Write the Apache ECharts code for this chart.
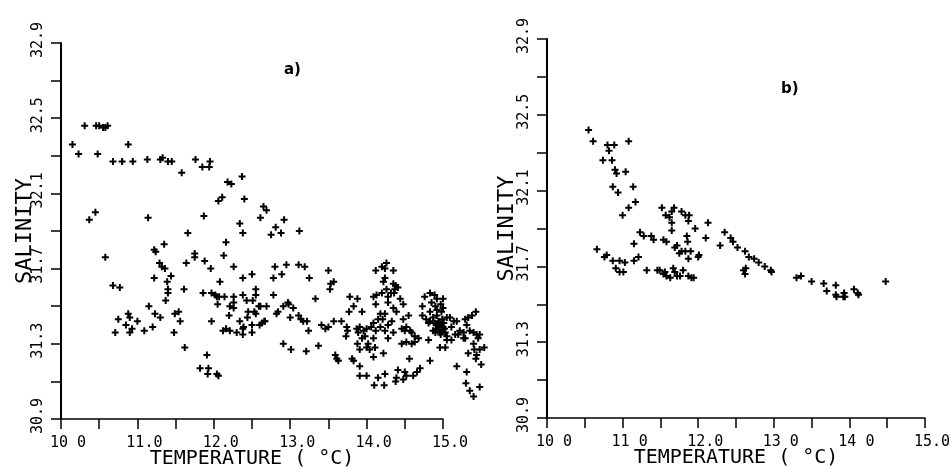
<!DOCTYPE html>
<html>
<head>
<meta charset="utf-8">
<script src="https://cdn.jsdelivr.net/npm/echarts@6/dist/echarts.min.js"></script>
<style>
  html, body { margin: 0; padding: 0; background: #fff; }
  #chart { width: 951px; height: 469px; }
</style>
</head>
<body>
<div id="chart"></div>
<script>
// ---- Data: [temperature (°C), salinity] ----
const panelA = [
  [10.15,32.36],[10.23,32.31],[10.31,32.46],[10.46,32.46],[10.50,32.46],[10.55,32.45],[10.58,32.45],[10.61,32.46],[10.48,32.31],[10.88,32.36],
  [10.68,32.27],[10.80,32.27],[10.94,32.27],[11.13,32.28],[11.30,32.28],[11.33,32.29],[11.40,32.27],[11.45,32.27],[11.58,32.21],[11.76,32.28],
  [11.85,32.24],[11.94,32.24],[11.95,32.27],[12.18,32.16],[12.23,32.15],[12.37,32.19],[12.06,32.06],[12.11,32.08],[12.40,32.07],[10.37,31.96],
  [10.45,32.00],[11.14,31.97],[11.87,31.98],[12.34,31.94],[12.38,31.89],[11.66,31.89],[12.61,31.97],[12.65,32.03],[12.69,32.01],[12.16,31.84],
  [11.22,31.80],[11.24,31.79],[11.35,31.83],[10.58,31.76],[11.75,31.78],[11.75,31.76],[12.13,31.77],[12.92,31.96],[12.81,31.92],[12.75,31.88],
  [12.88,31.89],[13.12,31.90],[11.29,31.73],[11.32,31.71],[11.36,31.70],[11.44,31.66],[11.22,31.65],[11.39,31.63],[11.40,31.59],[11.40,31.57],
  [11.37,31.53],[11.61,31.59],[11.64,31.73],[11.88,31.74],[11.96,31.70],[12.26,31.71],[12.38,31.65],[12.50,31.67],[12.08,31.63],[11.86,31.57],
  [11.97,31.57],[12.02,31.56],[12.04,31.55],[12.07,31.55],[12.05,31.51],[12.14,31.55],[12.26,31.55],[12.26,31.52],[12.38,31.56],[12.43,31.53],
  [12.51,31.53],[12.55,31.59],[12.55,31.56],[12.59,31.50],[12.69,31.50],[12.21,31.50],[12.26,31.49],[12.20,31.45],[12.45,31.47],[12.53,31.47],
  [12.44,31.44],[12.55,31.46],[12.34,31.42],[12.66,31.42],[12.60,31.40],[12.50,31.40],[12.39,31.39],[12.38,31.38],[12.38,31.35],[12.50,31.36],
  [12.30,31.36],[12.21,31.37],[12.12,31.37],[12.16,31.38],[11.97,31.42],[10.68,31.61],[10.77,31.60],[11.15,31.50],[11.23,31.46],[11.30,31.44],
  [11.49,31.46],[11.54,31.47],[11.56,31.42],[10.88,31.46],[10.90,31.44],[10.75,31.43],[10.85,31.40],[11.00,31.42],[10.93,31.38],[10.90,31.36],
  [10.71,31.36],[11.09,31.37],[11.20,31.39],[11.48,31.36],[11.62,31.28],[11.91,31.24],[11.82,31.17],[11.93,31.17],[11.92,31.14],[12.04,31.14],
  [12.06,31.13],[12.80,31.71],[12.95,31.72],[13.11,31.72],[13.19,31.71],[12.78,31.65],[12.89,31.67],[13.25,31.65],[13.50,31.69],[13.57,31.63],
  [13.53,31.62],[13.52,31.59],[12.78,31.56],[13.33,31.54],[12.61,31.50],[12.84,31.47],[12.82,31.46],[12.91,31.50],[12.97,31.52],[12.98,31.51],
  [13.04,31.49],[13.00,31.44],[13.11,31.45],[13.14,31.43],[13.17,31.42],[13.22,31.42],[13.24,31.37],[12.67,31.42],[12.63,31.41],[13.41,31.40],
  [13.46,31.38],[13.50,31.39],[13.57,31.42],[13.67,31.42],[12.91,31.30],[13.01,31.27],[13.21,31.26],[13.37,31.29],[13.59,31.24],[13.61,31.22],
  [13.63,31.21],[13.81,31.22],[13.83,31.21],[13.91,31.18],[13.91,31.13],[14.00,31.13],[14.10,31.08],[14.23,31.08],[14.15,31.12],[14.24,31.14],
  [14.38,31.10],[14.48,31.11],[14.39,31.12],[14.41,31.16],[14.50,31.15],[14.52,31.13],[14.61,31.13],[14.66,31.15],[14.70,31.17],[14.56,31.22],
  [14.83,31.21],[15.18,31.18],[15.31,31.15],[15.30,31.09],[15.48,31.07],[15.35,31.05],[15.40,31.02],[15.50,31.19],[15.43,31.22],[15.44,31.24],
  [15.33,31.25],[15.41,31.27],[15.48,31.27],[15.54,31.28],[15.40,31.30],[15.46,31.33],[15.48,31.35],[14.26,31.73],[14.12,31.69],[14.20,31.71],
  [14.24,31.70],[14.35,31.69],[14.24,31.65],[14.22,31.63],[14.38,31.61],[14.37,31.59],[14.41,31.60],[14.26,31.59],[14.20,31.57],[14.32,31.57],
  [14.36,31.57],[14.13,31.56],[14.09,31.55],[14.28,31.55],[14.44,31.54],[14.48,31.51],[14.28,31.52],[14.35,31.49],[14.39,31.47],[14.24,31.46],
  [14.18,31.46],[14.12,31.51],[13.78,31.55],[13.88,31.54],[13.77,31.47],[13.83,31.50],[13.94,31.47],[14.15,31.43],[14.21,31.43],[14.33,31.42],
  [14.28,31.40],[14.24,31.37],[14.18,31.39],[14.09,31.41],[14.06,31.39],[14.12,31.37],[14.35,31.36],[14.28,31.33],[14.48,31.43],[14.55,31.45],
  [14.52,31.39],[14.50,31.37],[14.57,31.37],[14.59,31.36],[14.63,31.34],[14.68,31.33],[14.63,31.31],[14.52,31.31],[14.46,31.30],[14.59,31.30],
  [13.74,31.39],[13.75,31.37],[13.73,31.34],[13.87,31.38],[13.89,31.36],[13.91,31.39],[13.96,31.37],[14.00,31.38],[13.94,31.33],[13.98,31.34],
  [14.09,31.33],[14.02,31.30],[13.88,31.30],[14.00,31.28],[13.91,31.27],[14.04,31.27],[14.11,31.28],[14.09,31.23],[14.22,31.25],[14.46,31.38],
  [14.81,31.32],[14.76,31.55],[14.83,31.57],[14.89,31.56],[14.92,31.54],[15.00,31.54],[14.73,31.50],[14.83,31.47],[14.90,31.50],[14.97,31.51],
  [14.73,31.45],[14.78,31.43],[14.83,31.42],[14.87,31.44],[14.92,31.45],[14.98,31.47],[15.00,31.49],[15.05,31.44],[15.09,31.44],[15.14,31.42],
  [14.94,31.42],[14.96,31.40],[15.00,31.39],[14.92,31.38],[14.87,31.37],[14.98,31.37],[15.03,31.36],[14.96,31.36],[15.05,31.34],[15.11,31.39],
  [15.18,31.42],[15.22,31.37],[15.20,31.35],[15.27,31.36],[15.27,31.33],[15.11,31.32],[15.16,31.35],[15.05,31.32],[14.96,31.28],[15.03,31.28],
  [15.29,31.43],[15.33,31.44],[15.38,31.45],[15.43,31.47],[15.31,31.40],[15.35,31.37],[15.40,31.36],[15.44,31.35],[15.29,31.33],[14.92,31.48],
  [14.85,31.52],[14.81,31.41],[14.90,31.36],[14.95,31.41],[14.99,31.43],[14.94,31.39],[14.97,31.35],[15.01,31.41],[14.91,31.40],[14.89,31.41],
  [15.02,31.38],[14.35,31.62]
];

const panelB = [
  [10.55,32.42],[10.61,32.36],[10.80,32.34],[10.89,32.34],[10.82,32.31],[11.08,32.36],[10.74,32.26],[10.86,32.26],[10.90,32.21],[10.92,32.19],
  [11.04,32.20],[10.87,32.12],[10.94,32.09],[11.14,32.12],[11.17,32.04],[11.08,32.01],[11.00,31.97],[11.52,32.01],[11.57,31.97],[11.62,31.96],
  [11.68,32.01],[11.65,31.99],[11.78,31.99],[11.83,31.97],[11.88,31.97],[11.87,31.94],[11.65,31.93],[11.65,31.89],[11.96,31.90],[12.13,31.93],
  [12.10,31.85],[11.85,31.86],[11.86,31.83],[11.23,31.88],[11.28,31.86],[11.38,31.86],[11.41,31.84],[11.54,31.84],[11.58,31.83],[11.15,31.82],
  [11.69,31.80],[11.72,31.81],[11.78,31.78],[11.83,31.78],[11.90,31.78],[11.75,31.77],[11.87,31.74],[12.01,31.76],[12.00,31.75],[12.29,31.81],
  [12.35,31.88],[12.43,31.85],[12.46,31.83],[12.52,31.80],[12.62,31.78],[12.67,31.75],[12.74,31.74],[12.80,31.72],[12.88,31.70],[12.96,31.68],
  [12.97,31.67],[12.60,31.68],[12.62,31.66],[12.63,31.69],[10.66,31.79],[10.76,31.75],[10.79,31.76],[10.87,31.73],[10.96,31.73],[11.03,31.72],
  [10.91,31.69],[10.96,31.67],[11.01,31.67],[11.15,31.73],[11.21,31.75],[11.32,31.68],[11.46,31.68],[11.49,31.68],[11.54,31.66],[11.58,31.65],
  [11.63,31.64],[11.69,31.67],[11.72,31.65],[11.76,31.65],[11.80,31.68],[11.87,31.65],[11.91,31.64],[11.94,31.64],[11.67,31.69],[11.56,31.67],
  [13.30,31.64],[13.36,31.65],[13.50,31.62],[13.66,31.61],[13.82,31.60],[13.70,31.57],[13.82,31.55],[13.83,31.54],[13.93,31.56],[13.94,31.54],
  [13.92,31.54],[14.06,31.58],[14.11,31.56],[14.12,31.55],[14.48,31.62]
];

// ---- Axis text ----
const xTickLabelsA = ['10 0', '11.0', '12.0', '13.0', '14.0', '15.0'];
const xTickLabelsB = ['10 0', '11 0', '12.0', '13 0', '14 0', '15.0'];
const yTickLabels = ['30.9', '31.3', '31.7', '32.1', '32.5', '32.9'];
const panelLabels = ['a)', 'b)'];
const xTitle = 'TEMPERATURE ( \u00B0C)';
const yTitle = 'SALINITY';

const yBase = 30.9;   // salinity axis runs 30.9 .. 32.9, ticks every 0.2
const MONO = '"DejaVu Sans Mono", "Liberation Mono", monospace';
const plusPath = 'path://M2.5,0H4.5V2.5H7V4.5H4.5V7H2.5V4.5H0V2.5H2.5Z';

function xAxisFor(idx, labels) {
  return {
    type: 'value', gridIndex: idx, min: 10, max: 15, interval: 0.5,
    name: xTitle, nameLocation: 'middle', nameGap: 30, nameMoveOverlap: false,
    nameTextStyle: { fontFamily: MONO, fontSize: 20, color: '#000' },
    axisLine: { show: true, onZero: false, lineStyle: { color: '#000', width: 1.5 } },
    axisTick: { show: true, inside: false, length: 10, lineStyle: { color: '#000', width: 1.5 } },
    splitLine: { show: false },
    axisLabel: {
      color: '#000', fontFamily: MONO, fontSize: 15, margin: 17,
      padding: [0, 0, 0, 14],
      formatter: function (v) {
        const r = Math.round(v);
        if (Math.abs(v - r) > 1e-6) return '';
        return labels[r - 10] || '';
      }
    }
  };
}

function yAxisFor(idx, gap) {
  return {
    type: 'value', gridIndex: idx, min: 0, max: 2, interval: 0.2,
    name: yTitle, nameLocation: 'middle', nameGap: gap, nameMoveOverlap: false,
    nameTextStyle: { fontFamily: MONO, fontSize: 22, color: '#000' },
    axisLine: { show: true, onZero: false, lineStyle: { color: '#000', width: 2 } },
    axisTick: { show: true, inside: false, length: 10, lineStyle: { color: '#000', width: 1.5 } },
    splitLine: { show: false },
    axisLabel: {
      color: '#000', fontFamily: MONO, fontSize: 15, margin: 15, rotate: 90,
      align: 'center', padding: [0, 0, 0, 6],
      formatter: function (v) {
        const k = Math.round(v / 0.2);
        return k % 2 ? '' : (yTickLabels[k / 2] || '');
      }
    }
  };
}

function seriesFor(idx, data) {
  return {
    type: 'scatter', xAxisIndex: idx, yAxisIndex: idx,
    data: data.map(function (p) { return [p[0], p[1] - yBase]; }),
    symbol: plusPath, symbolSize: 7, clip: false, silent: true,
    itemStyle: { color: '#000', opacity: 1 }
  };
}

const chart = echarts.init(document.getElementById('chart'), null, { renderer: 'canvas' });
chart.setOption({
  backgroundColor: '#fff',
  animation: false,
  title: [
    { text: panelLabels[0], left: 284, top: 63, padding: 0,
      textStyle: { fontFamily: 'DejaVu Sans', fontSize: 15, fontWeight: 'bold', color: '#000' } },
    { text: panelLabels[1], left: 781, top: 82, padding: 0,
      textStyle: { fontFamily: 'DejaVu Sans', fontSize: 15, fontWeight: 'bold', color: '#000' } }
  ],
  grid: [
    { left: 61, top: 43, width: 382, height: 376, containLabel: false, outerBoundsMode: 'none' },
    { left: 547, top: 39, width: 378, height: 379, containLabel: false, outerBoundsMode: 'none' }
  ],
  xAxis: [xAxisFor(0, xTickLabelsA), xAxisFor(1, xTickLabelsB)],
  yAxis: [yAxisFor(0, 25), yAxisFor(1, 29)],
  series: [seriesFor(0, panelA), seriesFor(1, panelB)]
});
</script>
</body>
</html>
